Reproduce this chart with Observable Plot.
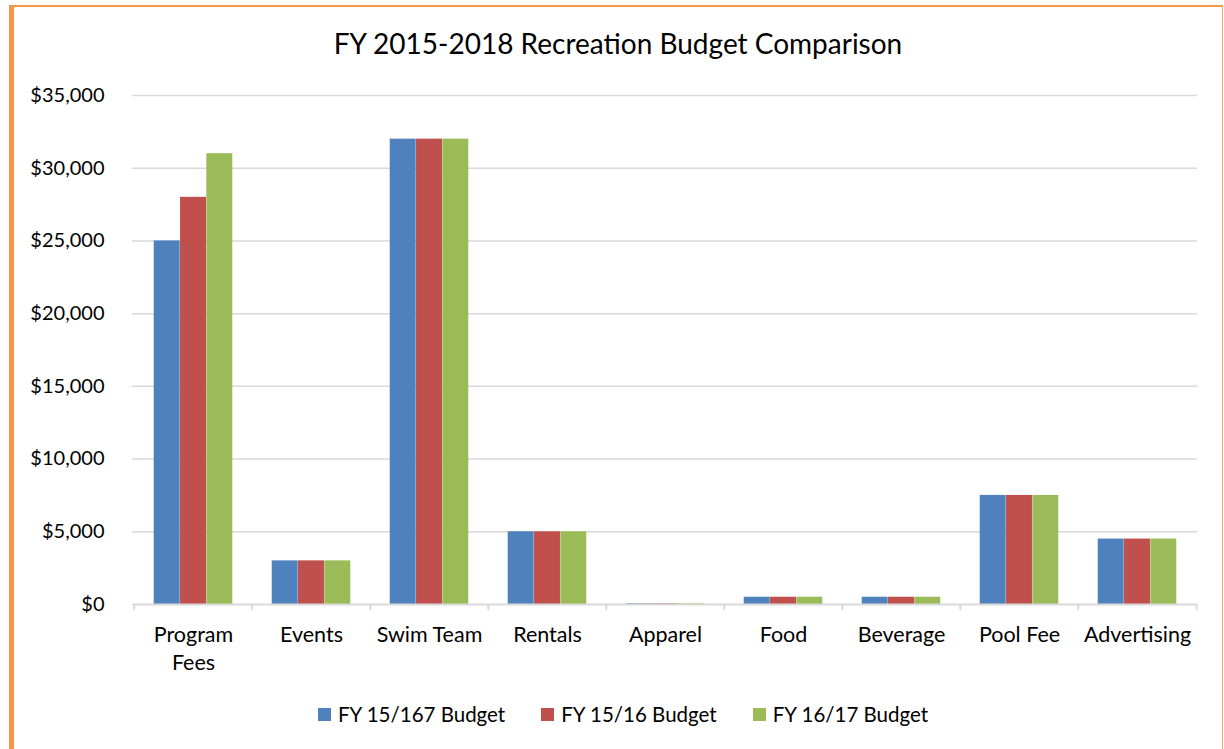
<!DOCTYPE html>
<html>
<head>
<meta charset="utf-8">
<script src="https://cdn.jsdelivr.net/npm/d3@7"></script>
<script src="https://cdn.jsdelivr.net/npm/@observablehq/plot@0.6"></script>
<style>
  body { margin: 0; background: #fff; font-family: Lato, "Open Sans", sans-serif; }
  #frame { position: absolute; left: 9px; top: 5px; width: 1208px; height: 800px;
    border-left: 5px solid #F79646; border-top: 2px solid #F79646; border-right: 1px solid #F7A56E; }
  #title { position: absolute; left: 0; top: 26px; width: 1236px; text-align: center;
    font-size: 28px; color: #000; }
  #chart { position: absolute; left: 0; top: 0; }
  #legend { position: absolute; left: 0; top: 702px; width: 1246px; display: flex; justify-content: center;
    font-size: 20.5px; color: #000; }
  .item { display: flex; align-items: center; margin: 0 18px; }
  .sw { width: 13px; height: 13px; margin-right: 7px; }
</style>
</head>
<body>
<div id="frame"></div>
<div id="chart"></div>
<div id="title">FY 2015-2018 Recreation Budget Comparison</div>
<div id="legend"></div>
<script>
const categories = ["Program Fees", "Events", "Swim Team", "Rentals", "Apparel", "Food", "Beverage", "Pool Fee", "Advertising"];
const xLabels = ["Program\nFees", "Events", "Swim Team", "Rentals", "Apparel", "Food", "Beverage", "Pool Fee", "Advertising"];
const series = ["FY 15/167 Budget", "FY 15/16 Budget", "FY 16/17 Budget"];
const budgetA = [25000, 3000, 32000, 5000, 50, 500, 500, 7500, 4500];
const budgetB = [28000, 3000, 32000, 5000, 50, 500, 500, 7500, 4500];
const budgetC = [31000, 3000, 32000, 5000, 50, 500, 500, 7500, 4500];
const yTicks = [0, 5000, 10000, 15000, 20000, 25000, 30000, 35000];
const colors = ["#4F81BD", "#C0504D", "#9BBB59"];

const values = [budgetA, budgetB, budgetC];
const rows = [];
series.forEach((s, j) => categories.forEach((c, i) => rows.push({category: c, series: s, value: values[j][i]})));

const W = 1224, H = 690, mL = 132, mR = 27, mT = 95, mB = 86;
const band = (W - mL - mR) / categories.length;
const barW = band * 2 / 9;
const gap = band / 6;

const bars = series.map((s, j) => Plot.barY(rows.filter(d => d.series === s), {
  x: "category", y: "value", fill: "series",
  insetLeft: gap + j * barW, insetRight: band - gap - (j + 1) * barW
}));

const chart = Plot.plot({
  width: W, height: H,
  marginLeft: mL, marginRight: mR, marginTop: mT, marginBottom: mB,
  style: {fontFamily: "Lato, sans-serif", fontSize: "20px", color: "#000", background: "transparent", overflow: "visible"},
  x: {domain: categories, padding: 0, axis: null},
  y: {domain: [0, 35000], ticks: yTicks, tickFormat: d => "$" + d3.format(",")(d), tickSize: 0, tickPadding: 28, label: null},
  color: {domain: series, range: colors},
  marks: [
    Plot.ruleY(yTicks.slice(1), {stroke: "#D9D9D9", strokeWidth: 1.5}),
    ...bars,
    Plot.ruleY([0], {stroke: "#D9D9D9", strokeWidth: 2}),
    Plot.ruleX(categories, {x: d => d, dx: -band / 2, y1: 0, y2: -420, stroke: "#D9D9D9", strokeWidth: 2}),
    Plot.ruleX(categories.slice(-1), {x: d => d, dx: band / 2, y1: 0, y2: -420, stroke: "#D9D9D9", strokeWidth: 2}),
    Plot.text(categories, {x: d => d, frameAnchor: "bottom", text: xLabels, lineAnchor: "top", dy: 18, lineHeight: 1.3, fontSize: 21.5, fill: "#000"})
  ]
});
document.getElementById("chart").appendChild(chart);

const legend = document.getElementById("legend");
series.forEach((s, j) => {
  const it = document.createElement("div"); it.className = "item";
  const sw = document.createElement("div"); sw.className = "sw"; sw.style.background = colors[j];
  const t = document.createElement("span"); t.textContent = s;
  it.appendChild(sw); it.appendChild(t); legend.appendChild(it);
});
</script>
</body>
</html>
